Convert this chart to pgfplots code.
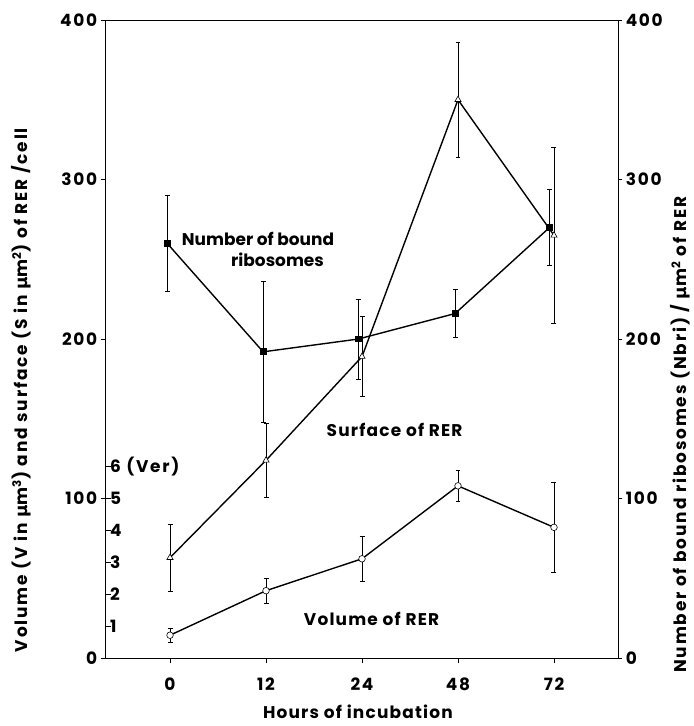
\documentclass[border=0pt]{standalone}
\usepackage{fontspec}
\setmainfont{Poppins}[LetterSpace=7]
\newfontfamily\djf{DejaVu Sans}
\usepackage{pgfplots}
\pgfplotsset{compat=1.18}
\begin{document}
\begin{tikzpicture}
\pgfplotsset{every axis/.append style={scale only axis, width=514pt, height=640pt,
  xmin=-0.67, xmax=4.67,
  font=\fontsize{17}{20}\selectfont\bfseries,
  /pgf/number format/assume math mode=true,
  axis line style={line width=0.7pt},
  major tick style={line width=0.7pt, black},
  ticklabel style={font=\fontsize{17}{20}\selectfont\bfseries\addfontfeature{LetterSpace=10}}}}
% main axis
\begin{axis}[name=main, at={(0,0)}, anchor=south west,
  ymin=0, ymax=400,
  ytick={0,100,...,400}, ytick pos=left, tick align=outside, major tick length=5pt,
  xtick={0,...,4}, xticklabels={0,12,24,48,72}, xtick pos=left,
  xticklabel style={yshift=-11pt},
  xlabel={Hours of incubation},
  xlabel style={at={(axis description cs:0.492,-0.084)}, anchor=center},
  ylabel={\addfontfeature{LetterSpace=11}Volume (V in {\djf μ}m\textsuperscript{3}) and surface (S in {\djf μ}m\textsuperscript{2}) of RER /cell},
  ylabel style={at={(axis description cs:-0.165,0.42)}, anchor=center},
]
% bound ribosomes (filled squares)
\addplot[black, line width=1.4pt, mark=square*, mark size=2.7pt, mark options={fill=black, solid},
  error bars/.cd, y dir=both, y explicit,
  error bar style={line width=0.7pt, black},
  error mark options={line width=0.7pt, mark size=2.5pt, rotate=90, black}]
  coordinates {(-0.03,260) +- (0,30) (0.97,192) +- (0,44) (1.96,200) +- (0,25) (2.97,216) +- (0,15) (3.955,270) +- (0,24)};
% surface (open triangles)
\addplot[black, line width=1.4pt, mark=triangle*, mark size=3.6pt, mark options={fill=white, solid, line width=0.6pt},
  error bars/.cd, y dir=both, y explicit,
  error bar style={line width=0.7pt, black},
  error mark options={line width=0.7pt, mark size=2.5pt, rotate=90, black}]
  coordinates {(0,63) +- (0,21) (1,124) +- (0,23) (2,189) +- (0,25) (3,350) +- (0,36) (4,265) +- (0,55)};
% volume (open circles)
\addplot[black, line width=1.4pt, mark=*, mark size=3.3pt, mark options={fill=white, solid, line width=0.6pt},
  error bars/.cd, y dir=both, y explicit,
  error bar style={line width=0.7pt, black},
  error mark options={line width=0.7pt, mark size=2.5pt, rotate=90, black}]
  coordinates {(0,14.4) +- (0,4.4) (1,42.3) +- (0,7.8) (2,62.3) +- (0,14) (3,108) +- (0,10) (4,82) +- (0,28)};
\node[font=\fontsize{17}{20}\selectfont\bfseries\addfontfeature{LetterSpace=0}] at (axis cs:0.917,262.5) {Number of bound};
\node[font=\fontsize{17}{20}\selectfont\bfseries\addfontfeature{LetterSpace=0}] at (axis cs:1.12,250) {ribosomes};
\node at (axis cs:2.34,143) {Surface of RER};
\node at (axis cs:2.10,24.4) {Volume of RER};
\end{axis}
% right axis
\begin{axis}[at={(0,0)}, anchor=south west,
  ymin=0, ymax=400, axis y line*=right, axis x line=none,
  ytick={0,100,...,400}, tick align=outside, major tick length=4pt,
  ylabel={\addfontfeature{LetterSpace=11}Number of bound ribosomes (Nbri) / {\djf μ}m\textsuperscript{2} of RER},
  ylabel style={at={(axis description cs:1.121,0.35)}, anchor=center, inner sep=1pt},
]
\end{axis}
% Ver scale: tiny axis whose right edge is the main left axis line
\begin{axis}[at={(main.south west)}, anchor=south east, width=1pt,
  xmin=0, xmax=1,
  ymin=0, ymax=20, axis y line*=right, axis x line=none,
  ytick={1,...,6}, yticklabels={1,2,3,4,5,6 (Ver)},
  tick align=outside, major tick length=5pt,
  yticklabel style={xshift=-4pt},
]
\end{axis}
\pgfresetboundingbox
\path[use as bounding box] (-106pt,-68pt) rectangle (589pt,660pt);
\end{tikzpicture}
\end{document}
